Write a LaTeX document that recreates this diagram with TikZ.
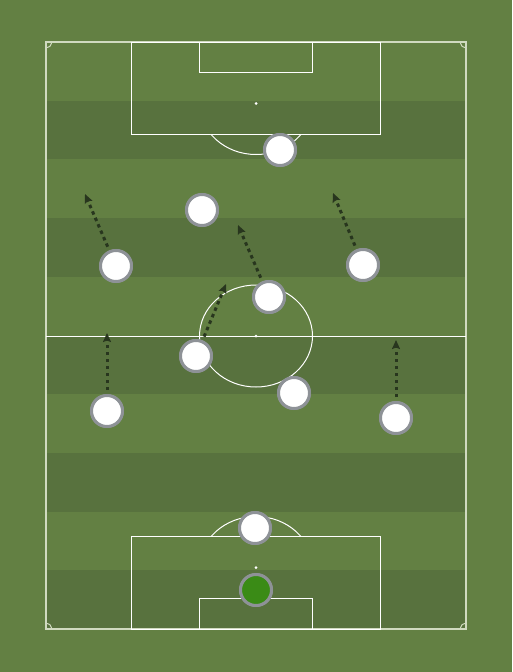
\documentclass[tikz,border=0pt]{standalone}
\usetikzlibrary{arrows.meta}
\definecolor{grasslight}{RGB}{99,128,67}
\definecolor{grassdark}{RGB}{88,114,62}
\definecolor{outline}{RGB}{208,218,192}
\definecolor{ring}{RGB}{142,146,151}
\definecolor{keeper}{RGB}{58,139,22}
\definecolor{runcol}{RGB}{40,54,30}
\tikzset{
  pline/.style={draw=white,line width=1pt},
  boundary/.style={draw=outline,line width=1.5pt},
  player/.style={circle,minimum size=31pt,inner sep=0pt,fill=white,draw=ring,line width=3pt},
  gk/.style={player,fill=keeper},
  run/.style={draw=runcol,line width=3pt,dash pattern=on 3.5pt off 3.5pt,shorten <=4pt,-{Stealth[length=9pt,width=8pt,inset=1.5pt]}},
  spot/.style={fill=white},
}
\begin{document}
\begin{tikzpicture}[x=1pt,y=-1pt]
\useasboundingbox (0,0) rectangle (512,672);
\fill[grasslight] (0,0) rectangle (512,672);
% stripes
\foreach \i in {1,3,5,7,9}{
  \fill[grassdark] (46,{42+\i*58.7}) rectangle (466,{42+(\i+1)*58.7});
}
% pitch lines
\draw[boundary] (46,42) rectangle (466,629);
\draw[pline] (46,336) -- (466,336);
\draw[pline] (256,336) ellipse [x radius=56.5, y radius=51];
\fill[spot] (256,336) circle (1.5);
% top
\draw[pline] (131,42) rectangle (380,134);
\draw[pline] (199,42) rectangle (312,72);
\fill[spot] (256,103.5) circle (1.5);
\begin{scope}
\clip (46,134.5) rectangle (466,220);
\draw[pline] (256,103.5) ellipse [x radius=56.5, y radius=51];
\end{scope}
% bottom
\draw[pline] (131,536) rectangle (380,629);
\draw[pline] (199,598) rectangle (312,629);
\fill[spot] (256,567.5) circle (1.5);
\begin{scope}
\clip (46,450) rectangle (466,535.5);
\draw[pline] (256,567.5) ellipse [x radius=56.5, y radius=51];
\end{scope}
% corner arcs
\draw[boundary,line width=1pt] (52,42) arc[start angle=0,end angle=90,x radius=6,y radius=5.6];
\draw[boundary,line width=1pt] (460,42) arc[start angle=180,end angle=90,x radius=6,y radius=5.6];
\draw[boundary,line width=1pt] (52,629) arc[start angle=0,end angle=-90,x radius=6,y radius=5.6];
\draw[boundary,line width=1pt] (460,629) arc[start angle=180,end angle=270,x radius=6,y radius=5.6];
% arrow targets
\coordinate (tLB) at (107,333);
\coordinate (tLM) at (85,194);
\coordinate (tCB) at (226,284);
\coordinate (tCM) at (238,225);
\coordinate (tRM) at (333,193);
\coordinate (tRB) at (396,340);
% players
\path
  (256,590) node[gk] (gk) {}
  (255,528) node[player] (sw) {}
  (107,411) node[player] (lb) {}
  (294,393) node[player] (cbr) {}
  (396,418) node[player] (rb) {}
  (196,356) node[player] (cbl) {}
  (269,297) node[player] (cm) {}
  (116,266) node[player] (lm) {}
  (363,265) node[player] (rm) {}
  (202,210) node[player] (am) {}
  (280,150) node[player] (st) {};
% runs
\draw[run] (lb) -- (tLB);
\draw[run] (lm) -- (tLM);
\draw[run] (cbl) -- (tCB);
\draw[run] (cm) -- (tCM);
\draw[run] (rm) -- (tRM);
\draw[run] (rb) -- (tRB);
% players on top of the runs
\path
  (256,590) node[gk] {}
  (255,528) node[player] {}
  (107,411) node[player] {}
  (294,393) node[player] {}
  (396,418) node[player] {}
  (196,356) node[player] {}
  (269,297) node[player] {}
  (116,266) node[player] {}
  (363,265) node[player] {}
  (202,210) node[player] {}
  (280,150) node[player] {};
\end{tikzpicture}
\end{document}
